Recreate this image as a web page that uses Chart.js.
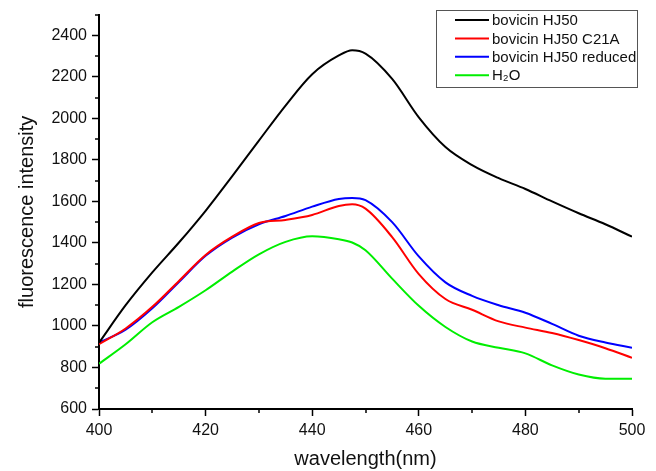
<!DOCTYPE html>
<html>
<head>
<meta charset="utf-8">
<script src="https://cdn.jsdelivr.net/npm/chart.js@4/dist/chart.umd.min.js"></script>
<style>
html,body{margin:0;padding:0;background:#fff;}
#wrap{width:656px;height:471px;position:relative;}
</style>
</head>
<body>
<div id="wrap"><canvas id="c" width="656" height="471"></canvas></div>
<script>
// wavelength (nm)
const wavelength = [400,405,410,415,420,425,430,435,440,445,447.5,450,455,460,465,470,475,480,485,490,495,500];
// series
const bovicinHJ50        = [919,1100,1258,1402,1555,1722,1893,2062,2213,2303,2328,2312,2190,2005,1862,1775,1712,1660,1600,1543,1490,1430];
const bovicinHJ50C21A    = [912,988,1092,1217,1342,1430,1496,1511,1535,1578,1586,1565,1428,1250,1130,1078,1022,992,966,932,893,847];
const bovicinHJ50Reduced = [920,982,1085,1212,1338,1426,1490,1530,1575,1612,1617,1606,1500,1335,1210,1145,1100,1064,1010,953,920,895];
const water              = [818,912,1018,1092,1172,1262,1345,1405,1432,1418,1402,1365,1228,1097,995,925,895,868,810,766,746,746];
// tick labels
const xTicks = [400,420,440,460,480,500];
const yTicks = [600,800,1000,1200,1400,1600,1800,2000,2200,2400];
const xMinor = [410,430,450,470,490];
const yMinor = [700,900,1100,1300,1500,1700,1900,2100,2300,2500];
const labels = ['bovicin HJ50','bovicin HJ50 C21A','bovicin HJ50 reduced','H\u2082O'];
const colors = ['#000000','#ff0000','#0000ff','#00ee00'];

const series = [bovicinHJ50, bovicinHJ50C21A, bovicinHJ50Reduced, water];
const FONT = 'Liberation Sans, Arial, sans-serif';

const minorTicks = {
  id:'minorTicks',
  afterDraw(chart){
    const ctx = chart.ctx, xs = chart.scales.x, ys = chart.scales.y;
    ctx.save();
    ctx.strokeStyle = '#000'; ctx.lineWidth = 1.5;
    xMinor.forEach(v=>{
      const px = Math.round(xs.getPixelForValue(v));
      ctx.beginPath(); ctx.moveTo(px, xs.top); ctx.lineTo(px, xs.top+4); ctx.stroke();
    });
    yMinor.forEach(v=>{
      const py = Math.round(ys.getPixelForValue(v));
      ctx.beginPath(); ctx.moveTo(ys.right, py); ctx.lineTo(ys.right-4, py); ctx.stroke();
    });
    ctx.restore();
  }
};

const legendBox = {
  id:'legendBox',
  afterDraw(chart){
    const ctx = chart.ctx;
    ctx.save();
    ctx.fillStyle = '#fff';
    ctx.fillRect(436.5, 10.5, 201, 77);
    ctx.strokeStyle = '#555'; ctx.lineWidth = 1;
    ctx.strokeRect(436.5, 10.5, 201, 77);
    ctx.font = '15px ' + FONT;
    ctx.textBaseline = 'middle';
    chart.data.datasets.forEach((ds, i)=>{
      const y = 20 + i*18.4;
      ctx.strokeStyle = ds.borderColor; ctx.lineWidth = 2;
      ctx.beginPath(); ctx.moveTo(455, y); ctx.lineTo(489, y); ctx.stroke();
      ctx.fillStyle = '#111';
      ctx.fillText(ds.label, 492, y+1);
    });
    ctx.restore();
  }
};

new Chart(document.getElementById('c'), {
  type:'line',
  data:{
    datasets: series.map((s,i)=>({
      label: labels[i],
      data: wavelength.map((x,j)=>({x:x, y:s[j]})),
      borderColor: colors[i],
      backgroundColor: colors[i],
      borderWidth: 2,
      pointRadius: 0,
      fill:false,
      cubicInterpolationMode:'monotone'
    }))
  },
  options:{
    responsive:false,
    animation:false,
    layout:{padding:{top:11, right:24, left:0, bottom:0}},
    plugins:{legend:{display:false}, tooltip:{enabled:false}},
    scales:{
      x:{
        type:'linear', min:400, max:500,
        afterBuildTicks(s){ s.ticks = xTicks.map(v=>({value:v})); },
        afterFit(s){ s.height = 62; },
        grid:{drawOnChartArea:false, drawTicks:true, tickLength:7, tickColor:'#000', tickWidth:1.5},
        border:{display:true, color:'#000', width:2},
        ticks:{color:'#111', font:{family:FONT, size:16}, padding:5, maxRotation:0, callback:v=>String(v)},
        title:{display:true, text:'wavelength(nm)', color:'#111', font:{family:FONT, size:20}, padding:{top:0,bottom:0}}
      },
      y:{
        type:'linear', min:600, max:2500,
        afterBuildTicks(s){ s.ticks = yTicks.map(v=>({value:v})); },
        afterFit(s){ s.width = 99; },
        grid:{drawOnChartArea:false, drawTicks:true, tickLength:7, tickColor:'#000', tickWidth:1.5},
        border:{display:true, color:'#000', width:2},
        ticks:{color:'#111', font:{family:FONT, size:16}, padding:5, callback:v=>String(v)},
        title:{display:true, text:'fluorescence intensity', color:'#111', font:{family:FONT, size:20}, padding:{top:15,bottom:0}}
      }
    }
  },
  plugins:[minorTicks, legendBox]
});
</script>
</body>
</html>
